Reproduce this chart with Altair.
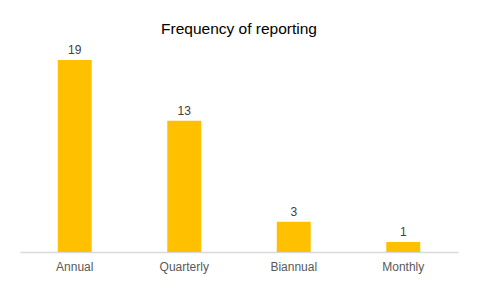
import altair as alt
import pandas as pd

categories = ["Annual", "Quarterly", "Biannual", "Monthly"]
counts = [19, 13, 3, 1]

df = pd.DataFrame({"freq": categories, "count": counts})

FONT = "Liberation Sans"

base = alt.Chart(df).encode(
    x=alt.X("freq:N", sort=categories,
            scale=alt.Scale(paddingInner=0.69, paddingOuter=0.345),
            axis=alt.Axis(title=None, labelAngle=0, ticks=False, domainColor="#d9d9d9",
                          domainWidth=1.5, labelColor="#595959", labelFontSize=12,
                          labelFont=FONT, labelPadding=9, grid=False)),
    y=alt.Y("count:Q", scale=alt.Scale(domain=[0, 20], nice=False),
            axis=None),
)

bars = base.mark_bar(color="#FFC000")
labels = base.mark_text(dy=-10, fontSize=12, font=FONT, color="#404040").encode(text="count:Q")

chart = (bars + labels).properties(
    width=438, height=202,
    title=alt.TitleParams("Frequency of reporting", fontSize=15.5, font=FONT,
                          fontWeight="normal", color="#000000", offset=7, anchor="middle"),
    autosize=alt.AutoSizeParams(type="none"),
    padding={"left": 20, "top": 50, "right": 22, "bottom": 36},
).configure_view(stroke=None)

chart.save("out.html", embed_options={"renderer": "svg", "actions": False})
